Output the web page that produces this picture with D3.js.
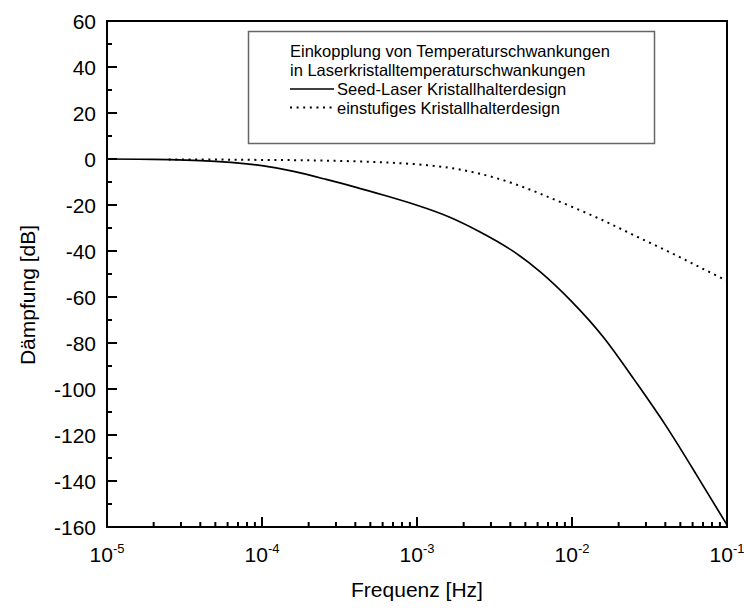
<!DOCTYPE html>
<html>
<head>
<meta charset="utf-8">
<script src="https://cdn.jsdelivr.net/npm/d3@7"></script>
<style>
  body { margin: 0; background: #fff; }
  svg { display: block; font-family: "Liberation Sans", Arial, sans-serif; }
</style>
</head>
<body>
<div id="chart"></div>
<script>
// Frequencies [Hz] and attenuation [dB]
const freqSeed = [1e-5, 1.6e-5, 2.5e-5, 4e-5, 6.3e-5, 1e-4, 1.6e-4, 2.5e-4, 4e-4, 6.3e-4,
  1e-3, 1.6e-3, 2.5e-3, 4e-3, 6.3e-3, 1e-2, 1.6e-2, 2.5e-2, 4e-2, 6.3e-2, 1e-1];
const dbSeed = [0, -0.1, -0.3, -0.7, -1.5, -2.9, -5.4, -8.6, -12.2, -16.0,
  -20.1, -25.1, -31.4, -39.3, -49.3, -62.1, -77.6, -95.6, -115.6, -136.9, -159.1];

const freqSingle = [2.5e-5, 4e-5, 6.3e-5, 1e-4, 1.6e-4, 2.5e-4, 4e-4, 6.3e-4,
  1e-3, 1.6e-3, 2.5e-3, 4e-3, 6.3e-3, 1e-2, 1.6e-2, 2.5e-2, 4e-2, 6.3e-2, 1e-1];
const dbSingle = [-0.2, -0.2, -0.3, -0.4, -0.5, -0.7, -1.0, -1.5,
  -2.3, -3.8, -6.3, -10.2, -15.2, -20.8, -26.8, -33.1, -39.6, -46.2, -53.0];

const xDecades = [-5, -4, -3, -2, -1];
const yTicks = [60, 40, 20, 0, -20, -40, -60, -80, -100, -120, -140, -160];
const legendTitle = ["Einkopplung von Temperaturschwankungen", "in Laserkristalltemperaturschwankungen"];
const seriesNames = ["Seed-Laser Kristallhalterdesign", "einstufiges Kristallhalterdesign"];

const W = 744, H = 608;
const margin = { left: 107, right: 17, top: 21, bottom: 81 };
const width = W - margin.left - margin.right;
const height = H - margin.top - margin.bottom;

const svg = d3.select("#chart").append("svg")
  .attr("width", W)
  .attr("height", H);

const g = svg.append("g")
  .attr("transform", `translate(${margin.left},${margin.top})`);

const x = d3.scaleLog().domain([1e-5, 1e-1]).range([0, width]);
const y = d3.scaleLinear().domain([-160, 60]).range([height, 0]);

// minor + major ticks, pointing inward
const minorX = [];
xDecades.slice(0, -1).forEach(e => {
  for (let k = 2; k <= 9; k++) minorX.push(k * Math.pow(10, e));
});
const minorY = d3.range(-150, 60, 20);

g.append("g")
  .selectAll("line.mx")
  .data(minorX)
  .enter().append("line")
  .attr("x1", d => x(d)).attr("x2", d => x(d))
  .attr("y1", height).attr("y2", height - 5)
  .attr("stroke", "#000").attr("stroke-width", 2);

g.append("g")
  .selectAll("line.Mx")
  .data(xDecades)
  .enter().append("line")
  .attr("x1", d => x(Math.pow(10, d))).attr("x2", d => x(Math.pow(10, d)))
  .attr("y1", height).attr("y2", height - 10)
  .attr("stroke", "#000").attr("stroke-width", 2);

g.append("g")
  .selectAll("line.my")
  .data(minorY)
  .enter().append("line")
  .attr("x1", 0).attr("x2", 5)
  .attr("y1", d => y(d)).attr("y2", d => y(d))
  .attr("stroke", "#000").attr("stroke-width", 2);

g.append("g")
  .selectAll("line.My")
  .data(yTicks)
  .enter().append("line")
  .attr("x1", 0).attr("x2", 10)
  .attr("y1", d => y(d)).attr("y2", d => y(d))
  .attr("stroke", "#000").attr("stroke-width", 2);

// tick labels
g.append("g")
  .selectAll("text")
  .data(yTicks)
  .enter().append("text")
  .attr("x", -11)
  .attr("y", d => y(d))
  .attr("dy", "0.36em")
  .attr("text-anchor", "end")
  .attr("font-size", 21)
  .text(d => String(d));

const xl = g.append("g")
  .selectAll("text")
  .data(xDecades)
  .enter().append("text")
  .attr("x", d => x(Math.pow(10, d)))
  .attr("y", height + 35)
  .attr("text-anchor", "middle")
  .attr("font-size", 21);
xl.append("tspan").text("10");
xl.append("tspan")
  .attr("font-size", 13)
  .attr("dy", -9)
  .text(d => String(d));

// frame
g.append("rect")
  .attr("width", width).attr("height", height)
  .attr("fill", "none")
  .attr("stroke", "#000").attr("stroke-width", 2);

// curves
const line = d3.line()
  .x(d => x(d[0]))
  .y(d => y(d[1]))
  .curve(d3.curveNatural);

g.append("path")
  .datum(d3.zip(freqSeed, dbSeed))
  .attr("d", line)
  .attr("fill", "none")
  .attr("stroke", "#000")
  .attr("stroke-width", 1.7);

g.append("path")
  .datum(d3.zip(freqSingle, dbSingle))
  .attr("d", line)
  .attr("fill", "none")
  .attr("stroke", "#000")
  .attr("stroke-width", 2)
  .attr("stroke-dasharray", "2,4.6");

// legend
const lg = svg.append("g");
lg.append("rect")
  .attr("x", 248.5).attr("y", 31.5)
  .attr("width", 406).attr("height", 112)
  .attr("fill", "#fff")
  .attr("stroke", "#666").attr("stroke-width", 1.5);

legendTitle.forEach((t, i) => {
  lg.append("text")
    .attr("x", 290).attr("y", 57 + i * 19)
    .attr("font-size", 16.5)
    .text(t);
});

seriesNames.forEach((t, i) => {
  const ly = 89 + i * 18.5;
  lg.append("line")
    .attr("x1", 290).attr("x2", 334)
    .attr("y1", ly).attr("y2", ly)
    .attr("stroke", "#000")
    .attr("stroke-width", i === 0 ? 1.7 : 2)
    .attr("stroke-dasharray", i === 0 ? null : "2,4.6");
  lg.append("text")
    .attr("x", 337).attr("y", ly + 6)
    .attr("font-size", 16.5)
    .text(t);
});

// axis titles
svg.append("text")
  .attr("x", margin.left + width / 2)
  .attr("y", 597)
  .attr("text-anchor", "middle")
  .attr("font-size", 21)
  .text("Frequenz [Hz]");

svg.append("text")
  .attr("transform", "translate(35,295) rotate(-90)")
  .attr("text-anchor", "middle")
  .attr("font-size", 21)
  .text("Dämpfung [dB]");
</script>
</body>
</html>
